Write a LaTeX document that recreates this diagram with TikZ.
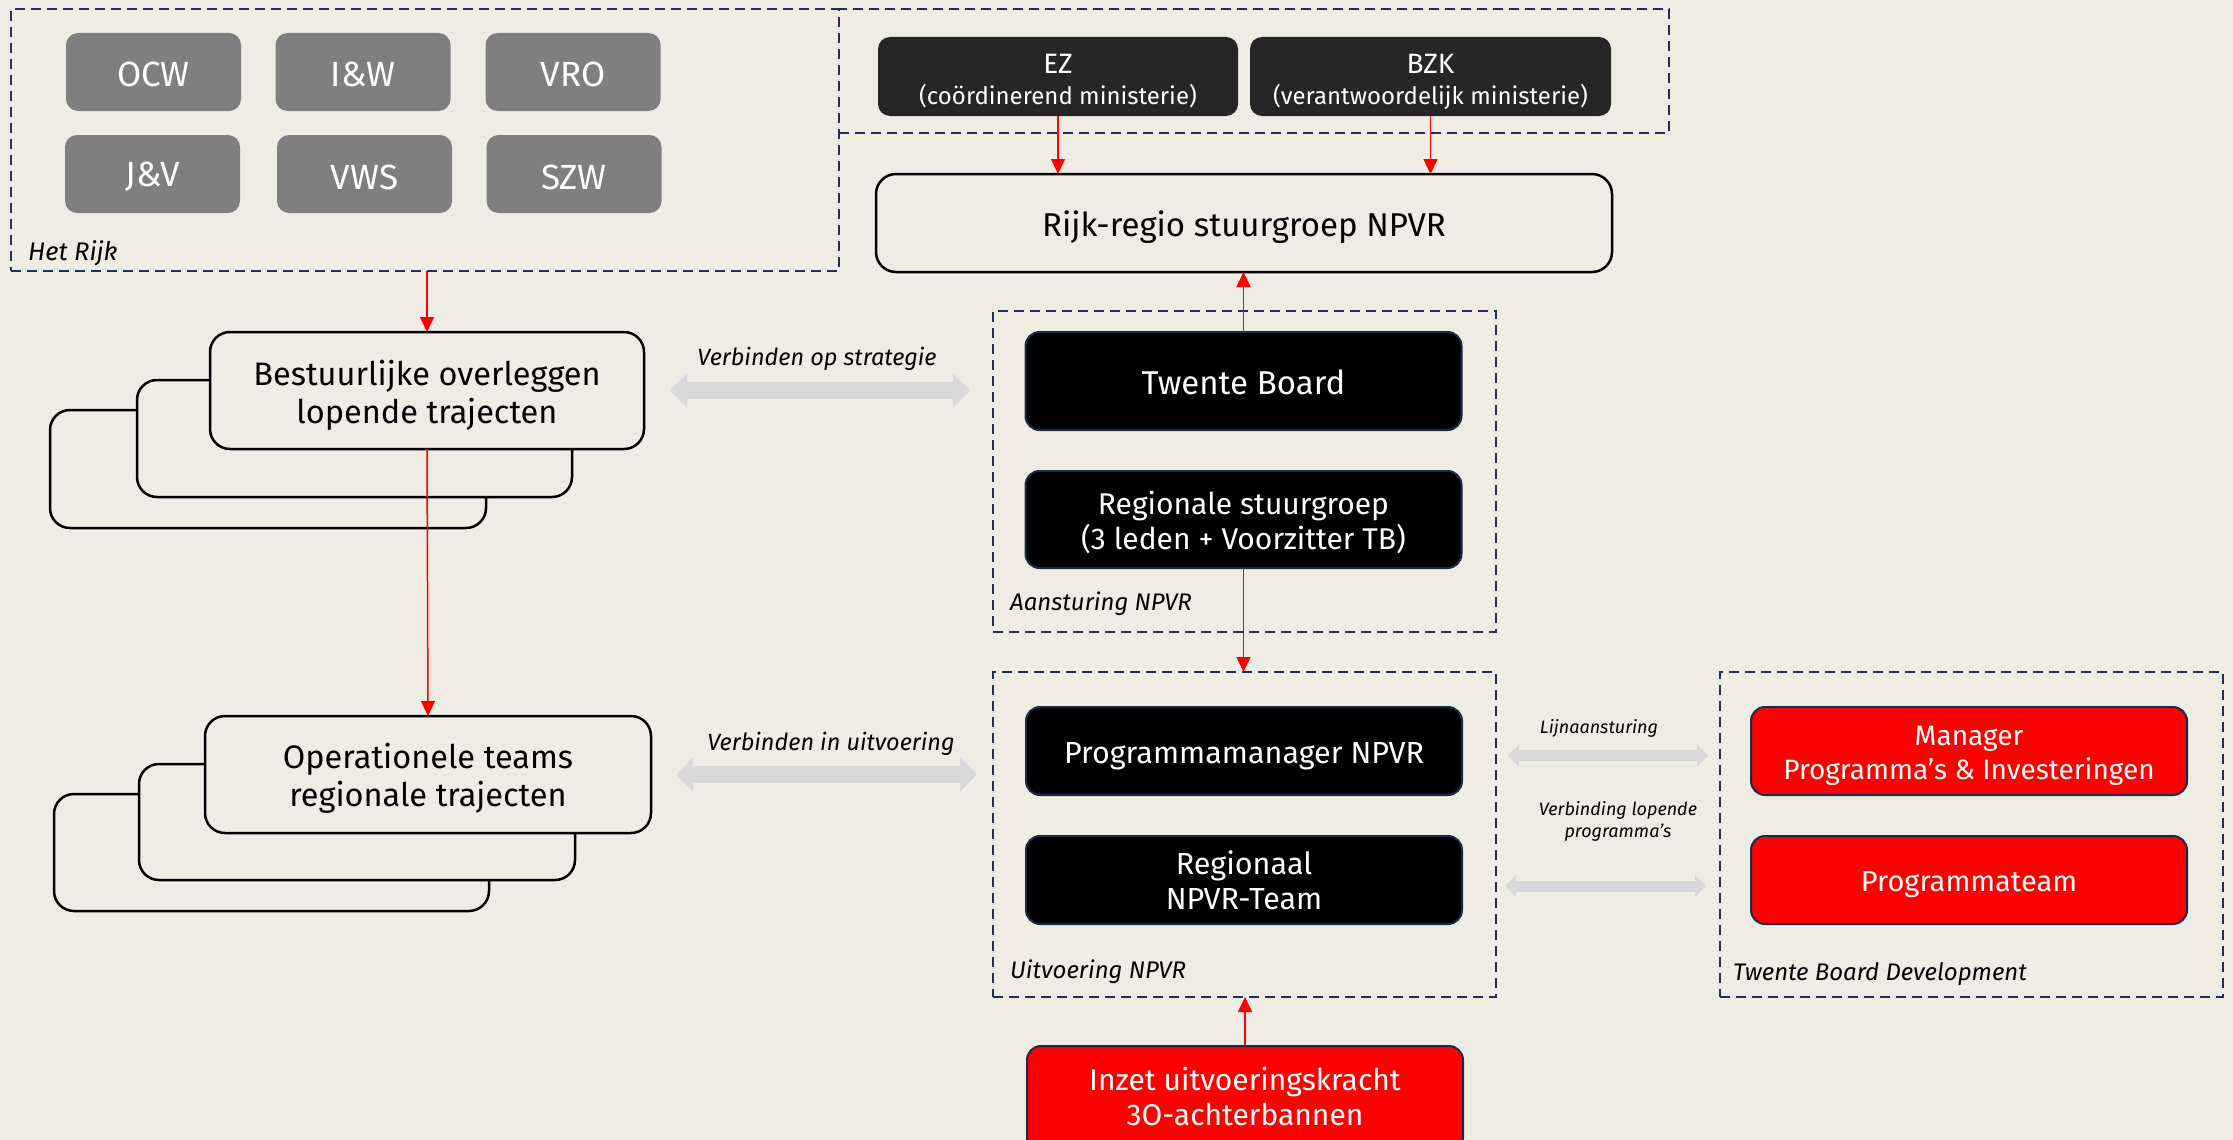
\documentclass[tikz,border=0pt]{standalone}
\usepackage{fontspec}
\setmainfont{Fira Sans}
\usetikzlibrary{arrows.meta}
\definecolor{bg}{HTML}{EFECE4}
\definecolor{navy}{HTML}{1F3052}
\definecolor{navyb}{HTML}{1B2A47}
\definecolor{greybox}{HTML}{7F7F7F}
\definecolor{darkbox}{HTML}{262626}
\definecolor{lightarr}{HTML}{D9D9D9}
\definecolor{redfill}{HTML}{FF0000}
\tikzset{
  grp/.style={draw=navy, line width=2.7pt, dash pattern=on 10pt off 6pt, inner sep=0pt, outer sep=0pt},
  greyb/.style={fill=greybox, rounded corners=12pt, minimum width=175pt, minimum height=78pt, inner sep=0pt, outer sep=0pt},
  darkb/.style={fill=darkbox, rounded corners=12pt, minimum height=79pt, inner sep=0pt, outer sep=0pt},
  blk/.style={fill=black, draw=navyb, line width=2pt, rounded corners=14pt, minimum width=436pt, inner sep=0pt, outer sep=0pt},
  redb/.style={blk, fill=redfill},
  outl/.style={draw=black, line width=2.5pt, fill=bg, rounded corners=20pt, inner sep=0pt, outer sep=0pt},
  wtx/.style={text=white, inner sep=0pt, align=center, font=\fontsize{30}{35}\selectfont},
  btx/.style={text=black, inner sep=0pt, align=center, font=\fontsize{32.5}{38}\selectfont},
  redarrow/.style={draw=redfill, line width=1.5pt, -{Triangle[length=15pt,width=14pt]}},
  greyarrow/.style={draw=lightarr, line width=17pt, {Triangle[length=17pt,width=33pt]}-{Triangle[length=17pt,width=33pt]}},
  greyarrowsm/.style={draw=lightarr, line width=11pt, {Triangle[length=11pt,width=22pt]}-{Triangle[length=11pt,width=22pt]}},
  lbl/.style={font=\itshape\fontsize{24}{28}\selectfont, inner sep=0pt, anchor=base west},
  albl/.style={font=\itshape\fontsize{23.5}{28}\selectfont, inner sep=0pt, anchor=base},
  slbl/.style={font=\itshape\fontsize{18}{22}\selectfont, inner sep=0pt, anchor=base, align=center}
}
\begin{document}
\begin{tikzpicture}[x=1pt,y=-1pt]
\useasboundingbox[fill=bg] (0,0) rectangle (2233,1140);

% Het Rijk
\node[grp, minimum width=828pt, minimum height=262pt] (rijk) at (425,140) {};
\node[greyb] (ocw) at (153.5,72) {};
\node[greyb] (iw) at (363,72) {};
\node[greyb] (vro) at (573,72) {};
\node[greyb] (jv) at (152.5,174) {};
\node[greyb] (vws) at (364.5,174) {};
\node[greyb] (szw) at (574,174) {};
\tikzset{gtx/.style={wtx, font=\fontsize{35}{40}\selectfont}}
\node[gtx] (ocwt) at ([yshift=-2pt]ocw.center) {OCW};
\node[gtx] (iwt) at ([yshift=-2pt]iw.center) {I\&W};
\node[gtx] (vrot) at ([yshift=-2pt]vro.center) {VRO};
\node[gtx] (jvt) at ([yshift=-3pt]jv.center) {J\&V};
\node[gtx] (vwst) at ([yshift=-3pt]vws.center) {VWS};
\node[gtx] (szwt) at ([yshift=-3pt]szw.center) {SZW};
\node[lbl, font=\itshape\fontsize{25.5}{28}\selectfont] (rijkl) at (28,260) {Het Rijk};

% EZ / BZK
\node[grp, minimum width=830pt, minimum height=124pt] (min) at (1254,71) {};
\node[darkb, minimum width=360pt] (ez) at (1058,76.5) {};
\node[darkb, minimum width=361pt] (bzk) at (1430.5,76.5) {};
\node[wtx, font=\fontsize{24}{31}\selectfont] (ezt) at ([yshift=-5pt]ez.center) {{\fontsize{28}{31}\selectfont EZ}\\(coördinerend ministerie)};
\node[wtx, font=\fontsize{24}{31}\selectfont] (bzkt) at ([yshift=-5pt]bzk.center) {{\fontsize{28}{31}\selectfont BZK}\\(verantwoordelijk ministerie)};

% Rijk-regio
\node[outl, minimum width=736pt, minimum height=98pt] (rr) at (1244,223) {};
\node[btx, font=\fontsize{33}{37}\selectfont] (rrt) at ([yshift=-4pt]rr.center) {Rijk-regio stuurgroep NPVR};

% Bestuurlijke stack
\node[outl, minimum width=436pt, minimum height=118pt] (bb3) at (268,469) {};
\node[outl, minimum width=435pt, minimum height=117pt] (bb2) at (354.5,438.5) {};
\node[outl, minimum width=434pt, minimum height=117pt] (bb1) at (427,390.5) {};
\node[btx] (bb1t) at ([yshift=-5pt]bb1.center) {Bestuurlijke overleggen\\lopende trajecten};

% Operationele stack
\node[outl, minimum width=435pt, minimum height=117pt] (ot3) at (271.5,852.5) {};
\node[outl, minimum width=436pt, minimum height=116pt] (ot2) at (357,822) {};
\node[outl, minimum width=446pt, minimum height=117pt] (ot1) at (428,774.5) {};
\node[btx] (ot1t) at ([yshift=-4pt]ot1.center) {Operationele teams\\regionale trajecten};

% Aansturing
\node[grp, minimum width=503pt, minimum height=321pt] (aans) at (1244.5,471.5) {};
\node[blk, minimum height=98pt] (tb) at (1243.5,381) {};
\node[wtx, font=\fontsize{33}{37}\selectfont] (tbt) at ([yshift=-1.5pt]tb.center) {Twente Board};
\node[blk, minimum height=97pt] (rs) at (1243.5,519.5) {};
\node[wtx] (rst) at ([yshift=-3pt]rs.center) {Regionale stuurgroep\\(3 leden + Voorzitter TB)};
\node[lbl] (aansl) at (1010,610) {Aansturing NPVR};

% Uitvoering
\node[grp, minimum width=503pt, minimum height=325pt] (uitv) at (1244.5,834.5) {};
\node[blk, minimum height=88pt] (pm) at (1244,751) {};
\node[wtx, font=\fontsize{30.5}{35}\selectfont] (pmt) at ([yshift=-5pt]pm.center) {Programmamanager NPVR};
\node[blk, minimum height=88pt] (rt) at (1244,880) {};
\node[wtx, font=\fontsize{30.5}{35}\selectfont] (rtt) at (rt.center) {Regionaal\\NPVR-Team};
\node[lbl] (uitvl) at (1010,978) {Uitvoering NPVR};

% Inzet
\node[redb, minimum height=106pt] (inzet) at (1245,1099) {};
\node[wtx] (inzett) at ([yshift=3pt]inzet.center) {Inzet uitvoeringskracht\\3O-achterbannen};

% Twente Board Development
\node[grp, minimum width=503pt, minimum height=325pt] (tbd) at (1971.5,834.5) {};
\node[redb, minimum height=88pt] (man) at (1969,751) {};
\node[wtx, font=\fontsize{28}{34}\selectfont] (mant) at ([yshift=-5pt]man.center) {Manager\\Programma’s \& Investeringen};
\node[redb, minimum height=88pt] (pt) at (1969,880) {};
\node[wtx, font=\fontsize{29}{35}\selectfont] (ptt) at ([yshift=-5pt]pt.center) {Programmateam};
\node[lbl] (tbdl) at (1733,980) {Twente Board Development};

% labels on grey arrows
\node[albl] (vos) at (817,365) {Verbinden op strategie};
\node[albl] (viu) at (831,750) {Verbinden in uitvoering};
\node[slbl] (lijn) at (1599,733) {Lijnaansturing};
\node[slbl] (vlp) at (1618,837) {Verbinding lopende\\programma’s};

% grey arrows
\draw[greyarrow, shorten <=26pt, shorten >=23pt] (bb1.east) -- (bb1.east -| aans.west);
\draw[greyarrow, shorten <=25pt, shorten >=16pt] (ot1.east) -- (ot1.east -| uitv.west);
\draw[greyarrowsm, shorten <=12pt, shorten >=12pt] (uitv.east |- 0,755.5) -- (tbd.west |- 0,755.5);
\draw[greyarrowsm, shorten <=9pt, shorten >=14pt] (uitv.east |- 0,886) -- (tbd.west |- 0,886);

% red arrows
\draw[redarrow] (bb1.north |- rijk.south) -- (bb1.north);
\draw[redarrow] (bb1.south) -- (ot1.north);
\draw[redarrow] (ez.south) -- (ez.south |- rr.north);
\draw[redarrow] (bzk.south) -- (bzk.south |- rr.north);
\draw[redarrow] (tb.north) -- (tb.north |- rr.south);
\draw[redarrow] (rs.south) -- (rs.south |- uitv.north);
\draw[redarrow] (inzet.north) -- (inzet.north |- uitv.south);
\end{tikzpicture}
\end{document}
